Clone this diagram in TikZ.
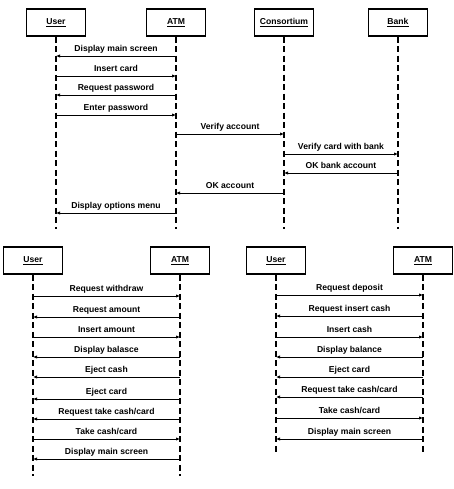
\documentclass[tikz,border=0pt]{standalone}
\usepackage{fontspec}
\setmainfont{Liberation Sans}
\usetikzlibrary{arrows.meta}
\begin{document}
\begin{tikzpicture}[x=1pt,y=-1pt,
  font=\fontsize{8.6}{10}\selectfont\bfseries,
  obj/.style={draw,line width=1.5pt,minimum width=59pt,minimum height=27pt,inner sep=2pt},
  life/.style={line width=1.1pt,dash pattern=on 6pt off 3.5pt},
  msg/.style={line width=0.9pt,-{Latex[length=4pt,width=3.4pt]}},
  lbl/.style={above,inner sep=2pt,text depth=2pt}]
  \useasboundingbox (0,0) rectangle (453,489);
  % Log in and verify the account.
  \node[obj] (u1) at (56,22.5) {\underline{User}};
  \node[obj] (a1) at (176,22.5) {\underline{ATM}};
  \node[obj] (c1) at (284,22.5) {\underline{Consortium}};
  \node[obj] (b1) at (398,22.5) {\underline{Bank}};
  \coordinate (u1end) at (56,229);
  \coordinate (a1end) at (176,229);
  \coordinate (c1end) at (284,229);
  \coordinate (b1end) at (398,229);
  \foreach \n in {u1,a1,c1,b1}
    \draw[life] (\n.south) -- (\n end);
  \foreach \y/\from/\to/\txt in {56/a1/u1/Display main screen,
      76/u1/a1/Insert card, 95/a1/u1/Request password,
      115/u1/a1/Enter password, 134/a1/c1/Verify account,
      154/c1/b1/Verify card with bank, 173/b1/c1/OK bank account,
      193/c1/a1/OK account, 213/a1/u1/Display options menu}
    \draw[msg] (\from |- 0,\y) -- node[lbl] {\txt} (\to |- 0,\y);
  % Withdraw.
  \node[obj] (u2) at (33,260.5) {\underline{User}};
  \node[obj] (a2) at (180,260.5) {\underline{ATM}};
  \coordinate (u2end) at (33,476);
  \coordinate (a2end) at (180,476);
  \foreach \n in {u2,a2}
    \draw[life] (\n.south) -- (\n end);
  \foreach \y/\from/\to/\txt in {296/u2/a2/Request withdraw,
      317/a2/u2/Request amount, 337/u2/a2/Insert amount,
      357/a2/u2/Display balasce, 377/a2/u2/Eject cash,
      399/a2/u2/Eject card, 419/a2/u2/{Request take cash/card},
      439/u2/a2/{Take cash/card}, 459/a2/u2/Display main screen}
    \draw[msg] (\from |- 0,\y) -- node[lbl] {\txt} (\to |- 0,\y);
  % Deposit.
  \node[obj] (u3) at (276,260.5) {\underline{User}};
  \node[obj] (a3) at (423,260.5) {\underline{ATM}};
  \coordinate (u3end) at (276,455);
  \coordinate (a3end) at (423,455);
  \foreach \n in {u3,a3}
    \draw[life] (\n.south) -- (\n end);
  \foreach \y/\from/\to/\txt in {295/u3/a3/Request deposit,
      316/a3/u3/Request insert cash, 337/u3/a3/Insert cash,
      357/a3/u3/Display balance, 377/a3/u3/Eject card,
      397/a3/u3/{Request take cash/card}, 418/u3/a3/{Take cash/card},
      439/a3/u3/Display main screen}
    \draw[msg] (\from |- 0,\y) -- node[lbl] {\txt} (\to |- 0,\y);
\end{tikzpicture}
\end{document}
